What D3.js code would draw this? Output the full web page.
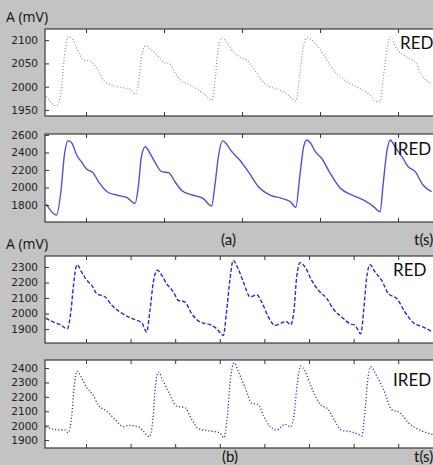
<!DOCTYPE html>
<html>
<head>
<meta charset="utf-8">
<script src="https://cdn.jsdelivr.net/npm/d3@7"></script>
<style>
  body { margin: 0; background: #c3c3c3; }
  svg { display: block; }
</style>
</head>
<body>
<svg id="chart" width="433" height="465"></svg>
<script>
// ---- data (time in s, amplitude in mV) ----
const redTimeA = [0.49,0.62,0.68,0.72,0.77,0.82,0.89,0.96,1.07,1.14,1.24,1.33,1.46,1.56,1.63,1.67,1.71,1.76,1.82,1.91,
  1.99,2.08,2.12,2.21,2.33,2.44,2.55,2.61,2.65,2.68,2.74,2.80,2.89,2.97,3.06,3.15,3.25,3.36,3.49,3.59,
  3.69,3.74,3.79,3.83,3.94,4.02,4.13,4.26,4.38,4.51,4.64,4.71,4.77,4.81,4.86,4.90,4.98,5.11,5.22,5.30,5.43];
const redA = [1979,1959,1989,2061,2107,2104,2079,2059,2053,2039,2011,2004,1998,1995,1984,2004,2061,2088,2082,2068,
  2053,2048,2036,2014,2004,1993,1979,1971,2004,2061,2105,2096,2075,2064,2057,2039,2014,2000,1993,1982,
  1969,2025,2089,2105,2093,2075,2046,2021,2007,1996,1982,1969,1968,2018,2082,2107,2082,2064,2053,2025,2007];

const iredTimeA = [0.49,0.62,0.68,0.72,0.77,0.82,0.88,0.94,1.01,1.09,1.16,1.27,1.39,1.52,1.63,1.67,1.71,1.76,1.82,1.88,
  1.97,2.06,2.14,2.23,2.36,2.50,2.61,2.65,2.70,2.75,2.80,2.87,2.97,3.08,3.21,3.36,3.51,3.62,3.69,3.74,
  3.79,3.83,3.88,3.94,4.02,4.13,4.26,4.41,4.56,4.68,4.77,4.81,4.86,4.90,4.96,5.05,5.13,5.22,5.32,5.43];
const iredA = [1811,1686,1971,2352,2535,2505,2371,2295,2208,2169,2066,1952,1914,1888,1819,2009,2352,2466,2391,2295,
  2181,2169,2066,1963,1914,1876,1788,2009,2371,2535,2497,2409,2314,2181,2009,1914,1876,1838,1774,2123,
  2466,2543,2505,2409,2334,2162,1991,1914,1857,1788,1723,2048,2429,2543,2466,2352,2238,2181,2029,1952];

const redTimeB = [0.10,0.27,0.42,0.58,0.66,0.72,0.80,0.90,1.02,1.13,1.24,1.43,1.58,1.76,1.95,2.14,2.25,2.36,2.43,2.51,
  2.60,2.70,2.81,2.96,3.07,3.22,3.37,3.56,3.78,3.93,4.08,4.15,4.23,4.30,4.41,4.53,4.68,4.83,4.94,5.09,
  5.24,5.35,5.48,5.59,5.66,5.72,5.80,5.91,6.06,6.21,6.40,6.54,6.73,6.92,7.03,7.16,7.23,7.29,7.37,7.48,
  7.63,7.78,7.97,8.15,8.34,8.56,8.77];
const redB = [1971,1945,1928,1902,2010,2182,2315,2268,2214,2182,2128,2107,2053,2010,1978,1956,1941,1881,2010,2203,
  2279,2246,2192,2139,2085,2074,1999,1945,1928,1902,1859,2010,2225,2343,2289,2203,2107,2121,2074,1978,
  1924,1934,1950,1928,2010,2225,2328,2300,2214,2150,2096,2031,1978,1934,1924,1870,2031,2225,2315,2268,
  2214,2128,2096,2010,1941,1913,1881];

const iredTimeB = [0.10,0.27,0.43,0.53,0.60,0.68,0.73,0.80,0.90,1.02,1.15,1.28,1.46,1.65,1.84,1.95,2.17,2.28,2.42,2.50,
  2.55,2.62,2.73,2.88,3.03,3.22,3.37,3.52,3.78,4.00,4.09,4.17,4.23,4.32,4.41,4.57,4.72,4.86,4.98,5.13,
  5.28,5.46,5.59,5.66,5.74,5.81,5.91,6.06,6.25,6.43,6.58,6.73,6.96,7.11,7.18,7.26,7.31,7.38,7.52,7.67,
  7.85,8.04,8.23,8.45,8.64,8.77];
const iredB = [1993,1975,1970,1970,1951,2067,2252,2379,2333,2263,2217,2141,2102,2044,1993,2002,1993,1963,1923,2044,
  2252,2372,2310,2217,2136,2125,2044,1979,1963,1951,1916,2067,2298,2437,2379,2263,2155,2148,2067,1993,
  1970,2009,1993,2067,2298,2414,2379,2263,2148,2113,2032,1970,1956,1940,1928,2113,2298,2409,2344,2252,
  2113,2090,2020,1975,1951,1940];

const yTicks1 = [1950, 2000, 2050, 2100];
const yTicks2 = [1800, 2000, 2200, 2400, 2600];
const yTicks3 = [1900, 2000, 2100, 2200, 2300];
const yTicks4 = [1900, 2000, 2100, 2200, 2300, 2400];
const xTicksA = [1, 2, 3, 4, 5];
const xTicksB = [1, 2, 3, 4, 5, 6, 7, 8];

const svg = d3.select("#chart");
const left = 45, right = 440;

// one panel = frame + ticks + trace + name
function drawPanel(p) {
  const x = d3.scaleLinear().domain(p.xDomain).range([left, right]);
  const y = d3.scaleLinear().domain(p.yDomain).range([p.bottom, p.top]);
  const g = svg.append("g");

  g.append("rect")
    .attr("x", left).attr("y", p.top)
    .attr("width", right - left).attr("height", p.bottom - p.top)
    .attr("fill", "#fff");

  const clipId = "clip" + p.top;
  g.append("clipPath").attr("id", clipId)
    .append("rect").attr("x", left).attr("y", p.top)
    .attr("width", right - left).attr("height", p.bottom - p.top);

  const pts = p.t.map((t, i) => [t, p.v[i]]);
  const line = d3.line()
    .x(d => x(d[0])).y(d => y(d[1]))
    .curve(d3.curveMonotoneX);

  g.append("path")
    .datum(pts)
    .attr("clip-path", `url(#${clipId})`)
    .attr("fill", "none")
    .attr("stroke", p.color)
    .attr("stroke-width", p.width)
    .attr("stroke-dasharray", p.dash)
    .attr("d", line);

  // y axis, ticks pointing inwards
  const ya = g.append("g")
    .attr("transform", `translate(${left},0)`)
    .call(d3.axisLeft(y).tickValues(p.yTicks).tickFormat(d3.format("d"))
      .tickSizeInner(-4).tickSizeOuter(0).tickPadding(7));
  ya.select(".domain").remove();
  ya.selectAll("line").attr("stroke", "#333");
  ya.selectAll("text")
    .attr("font-family", "DejaVu Sans").attr("font-size", 10.5).attr("fill", "#222");

  // x ticks on top and bottom, no labels
  const xb = g.append("g")
    .attr("transform", `translate(0,${p.bottom})`)
    .call(d3.axisBottom(x).tickValues(p.xTicks).tickSizeInner(-4).tickSizeOuter(0).tickFormat(""));
  xb.select(".domain").remove();
  xb.selectAll("line").attr("stroke", "#333");
  const xt = g.append("g")
    .attr("transform", `translate(0,${p.top})`)
    .call(d3.axisTop(x).tickValues(p.xTicks).tickSizeInner(-4).tickSizeOuter(0).tickFormat(""));
  xt.select(".domain").remove();
  xt.selectAll("line").attr("stroke", "#333");

  g.append("rect")
    .attr("x", left).attr("y", p.top)
    .attr("width", right - left).attr("height", p.bottom - p.top)
    .attr("fill", "none").attr("stroke", "#3a3a3a").attr("stroke-width", 1.2);

  g.append("text")
    .attr("x", p.nameX).attr("y", p.nameY)
    .attr("font-family", "Lato").attr("font-size", 17).attr("fill", "#111")
    .text(p.name);
}

drawPanel({ t: redTimeA, v: redA, xDomain: [0.474, 5.538], yDomain: [1937, 2124],
  top: 29, bottom: 116, yTicks: yTicks1, xTicks: xTicksA,
  color: "#8c8cc0", width: 1.2, dash: "1,2", name: "RED", nameX: 400, nameY: 49 });
drawPanel({ t: iredTimeA, v: iredA, xDomain: [0.474, 5.538], yDomain: [1606, 2611],
  top: 134, bottom: 222, yTicks: yTicks2, xTicks: xTicksA,
  color: "#5050dc", width: 1.4, dash: null, name: "IRED", nameX: 393, nameY: 155 });
drawPanel({ t: redTimeB, v: redB, xDomain: [0.081, 8.937], yDomain: [1810, 2371],
  top: 256, bottom: 343, yTicks: yTicks3, xTicks: xTicksB,
  color: "#2a2ad6", width: 1.4, dash: "4,2", name: "RED", nameX: 393, nameY: 276 });
drawPanel({ t: iredTimeB, v: iredB, xDomain: [0.081, 8.937], yDomain: [1845, 2456],
  top: 360, bottom: 448, yTicks: yTicks4, xTicks: xTicksB,
  color: "#3434cc", width: 1.3, dash: "1.2,2", name: "IRED", nameX: 393, nameY: 386 });

// axis names and captions
const labels = [
  { text: "A (mV)", x: 6, y: 22, font: "Open Sans", size: 14 },
  { text: "A (mV)", x: 6, y: 249, font: "Open Sans", size: 14 },
  { text: "(a)", x: 221, y: 245, font: "Lato", size: 15 },
  { text: "t(s)", x: 414, y: 245, font: "Lato", size: 15 },
  { text: "(b)", x: 222, y: 462, font: "Lato", size: 15 },
  { text: "t(s)", x: 414, y: 462, font: "Lato", size: 15 }
];
svg.selectAll(".lbl").data(labels).join("text")
  .attr("class", "lbl")
  .attr("x", d => d.x).attr("y", d => d.y)
  .attr("font-family", d => d.font).attr("font-size", d => d.size)
  .attr("fill", "#111")
  .text(d => d.text);
</script>
</body>
</html>
